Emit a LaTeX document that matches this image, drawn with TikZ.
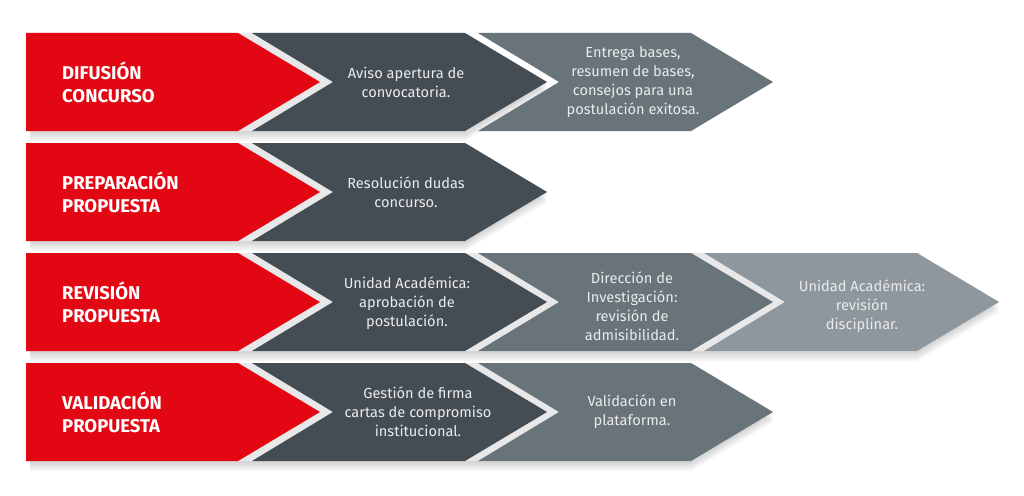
\documentclass[tikz,border=0pt]{standalone}
\usepackage{fontspec}
\setmainfont{Fira Sans}
\usepackage{xcolor}
\usepackage{tikz}
\definecolor{rojo}{HTML}{E30613}
\definecolor{oscuro}{HTML}{444D54}
\definecolor{medio}{HTML}{68737A}
\definecolor{claro}{HTML}{8D979D}
\tikzset{
  etiqueta/.style={text=white, font=\bfseries\fontsize{18.5pt}{23pt}\selectfont, align=left, anchor=west, inner sep=0pt},
  paso/.style={text=white!92!black, font=\fontsize{14.6pt}{19pt}\selectfont, align=center, inner sep=0pt}
}

\begin{document}
\begin{tikzpicture}[x=1pt,y=-1pt]
   \useasboundingbox (0,0) rectangle (1024,495);
   % sombra y franja de fondo de cada fila
   \foreach \t/\L in {33/252,143/252,253/704,363/478}{
      \foreach \s in {2,4,...,10}
         \fill[black,opacity=0.035] (30,\t+\s) -- (\L+213,\t+\s) -- (\L+295,\t+49+\s) -- (\L+213,\t+98+\s) -- (30,\t+98+\s) -- cycle;
      \fill[gray!18] (26,\t) -- (\L+213,\t) -- (\L+295,\t+49) -- (\L+213,\t+98) -- (26,\t+98) -- cycle;
   }
   \foreach \t in {33,143,253,363}
      \fill[rojo] (26,\t) -- (238,\t) -- (320,\t+49) -- (238,\t+98) -- (26,\t+98) -- cycle;
   \foreach \x/\t/\c in {252/33/oscuro,478/33/medio,252/143/oscuro,252/253/oscuro,478/253/medio,704/253/claro,252/363/oscuro,478/363/medio}
      \fill[\c] (\x,\t) -- ++(213,0) -- ++(82,49) -- ++(-82,49) -- ++(-213,0) -- ++(81,-49) -- cycle;
   % textos
   \node[etiqueta] (difusion) at (62,82) {DIFUSIÓN\\CONCURSO};
   \node[etiqueta] (preparacion) at (62,192) {PREPARACIÓN\\PROPUESTA};
   \node[etiqueta] (revision) at (62,302) {REVISIÓN\\PROPUESTA};
   \node[etiqueta] (validacion) at (62,412) {VALIDACIÓN\\PROPUESTA};
   \node[paso] (aviso) at (406,82) {Aviso apertura de\\convocatoria.};
   \node[paso] (entrega) at (633,82) {Entrega bases,\\resumen de bases,\\consejos para una\\postulación exitosa.};
   \node[paso] (dudas) at (406,192) {Resolución dudas\\concurso.};
   \node[paso] (aprobacion) at (407,303) {Unidad Académica:\\aprobación de\\postulación.};
   \node[paso] (admisibilidad) at (632,306) {Dirección de\\Investigación:\\revisión de\\admisibilidad.};
   \node[paso] (disciplinar) at (862,306) {Unidad Académica:\\revisión\\disciplinar.};
   \node[paso] (firma) at (418,412) {Gestión de firma\\cartas de compromiso\\institucional.};
   \node[paso] (plataforma) at (632,412) {Validación en\\plataforma.};
\end{tikzpicture}
\end{document}
